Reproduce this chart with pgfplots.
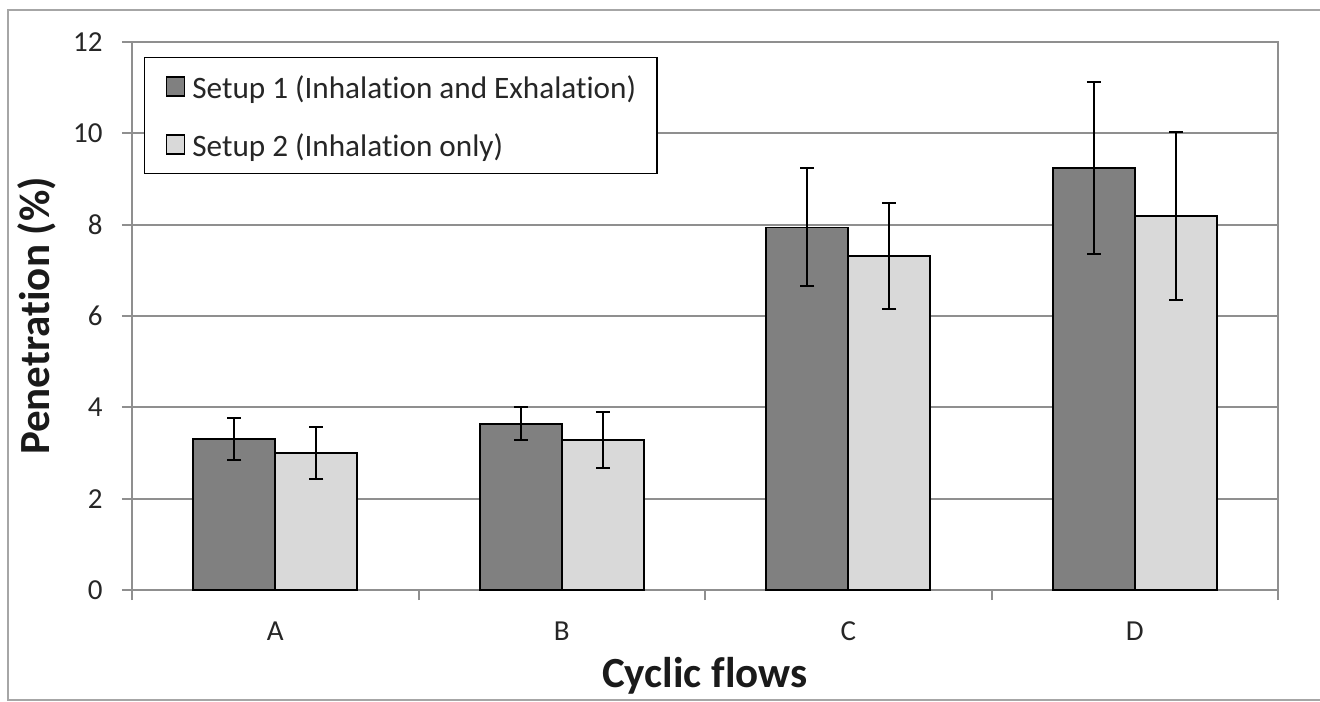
\documentclass[border=0pt]{standalone}
\usepackage{fontspec}
\setmainfont[Ligatures=NoCommon]{Carlito}
\usepackage{pgfplots}
\pgfplotsset{compat=1.18}
\usepackage{pgfplotstable}

\definecolor{setupdark}{HTML}{808080}
\definecolor{setuplight}{HTML}{D9D9D9}
\definecolor{gridgray}{HTML}{8F8F8F}
\definecolor{framegray}{HTML}{A6A6A6}
\definecolor{ticktext}{HTML}{262626}
\definecolor{labeltext}{HTML}{1A1A1A}

% penetration (%) per cyclic flow, mean and error half-width
\pgfplotstableread{
x y err
0 3.31 0.46
1 3.64 0.36
2 7.94 1.29
3 9.24 1.88
}\setupone

\pgfplotstableread{
x y err
0 3.00 0.56
1 3.28 0.61
2 7.31 1.16
3 8.19 1.83
}\setuptwo

\begin{document}
\begin{tikzpicture}
\useasboundingbox (0,0) rectangle (660pt,350.5pt);
\draw[framegray, line width=1pt] (670pt,345.5pt) -- (4pt,345.5pt) -- (4pt,0.5pt) -- (670pt,0.5pt);
\begin{axis}[
  scale only axis, width=573pt, height=274pt,
  at={(66pt,55.5pt)}, anchor=south west,
  ybar=0pt, bar width=41pt,
  xmin=-0.5, xmax=3.5, ymin=0, ymax=12,
  ytick={0,2,4,6,8,10,12},
  xtick={-0.5,0.5,1.5,2.5,3.5}, xticklabels={},
  extra x ticks={0,1,2,3}, extra x tick labels={A,B,C,D},
  extra x tick style={major tick length=0pt, xticklabel style={anchor=base, yshift=-25pt}},
  /pgf/number format/assume math mode=true,
  tick label style={font=\fontsize{14.5}{16}\selectfont, text=ticktext},
  yticklabel style={anchor=east, inner sep=0pt, xshift=-9.5pt},
  axis line style={gridgray, line width=1pt},
  ymajorgrids, major grid style={gridgray, line width=1pt},
  tick style={gridgray, line width=1pt},
  tick align=outside, major tick length=5pt, tick pos=left,
  xlabel={Cyclic flows}, ylabel={Penetration (\%)},
  every axis x label/.style={at={(axis description cs:0.5,-0.177)}, anchor=base,
    font=\bfseries\fontsize{21.5}{24}\selectfont, text=labeltext},
  every axis y label/.style={at={(axis description cs:-0.0716,0.5)}, rotate=90, anchor=base,
    font=\bfseries\fontsize{21.5}{24}\selectfont, text=labeltext},
  legend style={at={(axis description cs:0.01047,0.97263)}, anchor=north west,
    draw=black, line width=0.75pt, fill=white,
    inner xsep=10.5pt, inner ysep=6pt, row sep=12pt,
    font=\fontsize{15.6}{18}\selectfont, text=ticktext,
    nodes={inner sep=0pt, text height=14.5pt, text depth=2.5pt},
    /tikz/every odd column/.append style={column sep=3.5pt}},
  legend cell align=left,
  legend image code/.code={\draw[#1, draw=black, line width=0.8pt] (0pt,-4.5pt) rectangle (9pt,5pt);},
]
\addplot[fill=setupdark, draw=black, line width=0.9pt,
  error bars/.cd, y dir=both, y explicit,
  error bar style={line width=1pt, black},
  error mark options={rotate=90, mark size=3.5pt, line width=1pt, black}]
  table[x=x, y=y, y error=err] {\setupone};
\addlegendentry{Setup 1 (Inhalation and Exhalation)}
\addplot[fill=setuplight, draw=black, line width=0.9pt,
  error bars/.cd, y dir=both, y explicit,
  error bar style={line width=1pt, black},
  error mark options={rotate=90, mark size=3.5pt, line width=1pt, black}]
  table[x=x, y=y, y error=err] {\setuptwo};
\addlegendentry{Setup 2 (Inhalation only)}
\end{axis}
\end{tikzpicture}
\end{document}
